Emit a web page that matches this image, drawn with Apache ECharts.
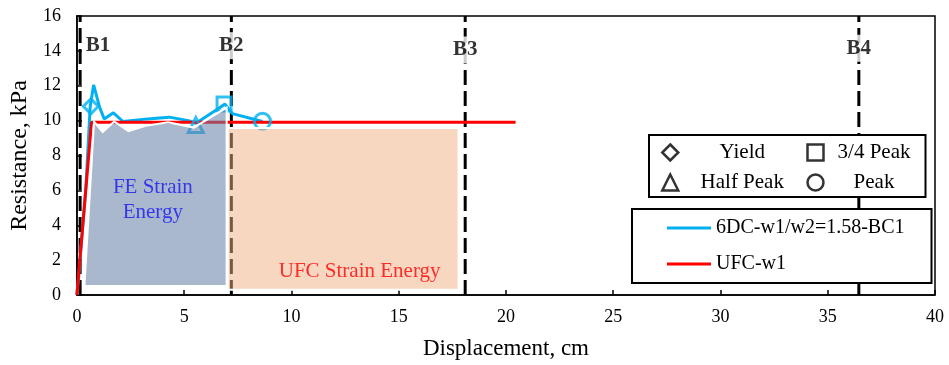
<!DOCTYPE html>
<html>
<head>
<meta charset="utf-8">
<script src="https://cdn.jsdelivr.net/npm/echarts@6/dist/echarts.min.js"></script>
<style>html,body{margin:0;padding:0;background:#fff}#c{width:949px;height:365px}</style>
</head>
<body>
<div id="c"></div>
<script>
// ---- data ----
const feCurve = [[0,0],[0.1,1.3],[0.42,6.2],[0.62,10.8],[0.78,12.05],[1.05,10.8],[1.27,10.1],[1.7,10.45],[2.15,9.95],[3.3,10.1],[4.3,10.2],[5.2,10.0],[5.55,9.85],[6.6,10.7],[6.9,10.95],[7.25,10.4],[8.65,9.95]];
const ufcCurve = [[0,0],[0.68,9.9],[20.45,9.9]];
const yieldPt = [[0.65,10.82]];
const halfPeakPt = [[5.54,9.75]];
const threeQuarterPt = [[6.86,10.95]];
const peakPt = [[8.65,9.96]];
const feEnergyPoly = [[0.35,0.52],[0.8,9.95],[1.2,9.35],[1.74,9.95],[2.4,9.4],[3.2,9.7],[4.25,9.9],[5.45,9.6],[6.98,10.75],[6.98,0.52]];
const ufcRectX = [7.03, 17.79];
const ufcRectY = [0.3, 9.58];
const bLines = [0.15, 7.2, 18.1, 36.45];
const bNames = ['B1','B2','B3','B4'];
const bLabelY = [14.3, 14.3, 14.05, 14.15];
const notes = [[3.54,5.45],[13.18,1.32]];
const noteText = ['FE Strain\nEnergy','UFC Strain Energy'];
const noteColors = ['#1515F0','#FF0000'];
const xTicks = {min:0, max:40, interval:5};
const yTicks = {min:0, max:16, interval:2};

const FONT = '"Liberation Serif", "Times New Roman", serif';
const CYAN = '#00B0F0';

const chart = echarts.init(document.getElementById('c'), null, {renderer:'canvas'});

function polySeries(name, pts, fill, z){
  return {
    name, type:'custom', z, silent:true, clip:true,
    data:[[0]],
    renderItem:(params, api)=>{
      return {type:'polygon', shape:{points:pts.map(p=>api.coord(p))},
        style:{fill, stroke:'#fff', lineWidth:2}};
    }
  };
}
const rectPts = [[ufcRectX[0],ufcRectY[0]],[ufcRectX[1],ufcRectY[0]],[ufcRectX[1],ufcRectY[1]],[ufcRectX[0],ufcRectY[1]]];

const bLineSeries = bLines.map((x,i)=>({
  name:'b'+i, type:'line', z:1, silent:true, symbol:'none',
  data:[[x,yTicks.min],[x,yTicks.max]],
  lineStyle:{color:'#000', width:3, type:[15,6]}
}));

function marker(name, data, symbol, size){
  return {name, type:'scatter', z:3, data, symbol, symbolSize:size,
    itemStyle:{color:'rgba(0,0,0,0)', borderColor:CYAN, borderWidth:3}};
}

const option = {
  animation:false,
  backgroundColor:'#fff',
  grid:{left:76, right:14, top:16, bottom:70, show:true, borderColor:'#000', borderWidth:1.5, backgroundColor:'transparent'},
  xAxis:{type:'value', min:xTicks.min, max:xTicks.max, interval:xTicks.interval,
    name:'Displacement, cm', nameLocation:'middle', nameGap:42,
    nameTextStyle:{fontFamily:FONT, fontSize:23, color:'#000'},
    axisLine:{lineStyle:{color:'#000', width:1.5}},
    axisTick:{inside:true, length:5, lineStyle:{color:'#000', width:1.5}},
    axisLabel:{fontFamily:FONT, fontSize:18, color:'#000', margin:13},
    splitLine:{show:false}},
  yAxis:{type:'value', min:yTicks.min, max:yTicks.max, interval:yTicks.interval,
    name:'Resistance, kPa', nameLocation:'middle', nameGap:41,
    nameTextStyle:{fontFamily:FONT, fontSize:24, color:'#000'},
    axisLine:{lineStyle:{color:'#000', width:1.5}},
    axisTick:{inside:true, length:5, lineStyle:{color:'#000', width:1.5}},
    axisLabel:{fontFamily:FONT, fontSize:18, color:'#000', margin:16},
    splitLine:{show:false}},
  legend:[
    {left:649, top:135, width:300, orient:'horizontal', itemGap:5, itemWidth:16, itemHeight:16,
     padding:[5,6,2,12], borderColor:'#000', borderWidth:2, backgroundColor:'#fff',
     selectedMode:false,
     data:[{name:'Yield', icon:'diamond'},{name:'3/4 Peak', icon:'rect'},{name:'Half Peak', icon:'triangle'},{name:'Peak', icon:'circle'}],
     itemStyle:{color:'rgba(0,0,0,0)', borderColor:'#000', borderWidth:2.5},
     formatter:n=> (n==='Yield'||n==='Half Peak') ? '{a|'+n+'}' : '{b|'+n+'}',
     textStyle:{fontFamily:FONT, fontSize:21, color:'#000', lineHeight:25, height:25,
       rich:{a:{width:118, height:25, align:'center', fontFamily:FONT, fontSize:21, lineHeight:25},
             b:{width:91, height:25, align:'center', fontFamily:FONT, fontSize:21, lineHeight:25}}}},
    {left:632, top:209, orient:'vertical', itemGap:16, itemWidth:44, itemHeight:3, icon:'rect',
     padding:[9,27,9,35], borderColor:'#000', borderWidth:2, backgroundColor:'#fff',
     selectedMode:false,
     data:['6DC-w1/w2=1.58-BC1','UFC-w1'],
     textStyle:{fontFamily:FONT, fontSize:20, color:'#000', lineHeight:20}}
  ],
  series:[
    ...bLineSeries,
    {name:'6DC-w1/w2=1.58-BC1', type:'line', z:2, symbol:'none', data:feCurve,
     lineStyle:{color:CYAN, width:3}, itemStyle:{color:CYAN}},
    {name:'UFC-w1', type:'line', z:2, symbol:'none', data:ufcCurve,
     lineStyle:{color:'#FF0000', width:3}, itemStyle:{color:'#FF0000'}},
    marker('Yield', yieldPt, 'diamond', 15),
    marker('Half Peak', halfPeakPt, 'triangle', 15),
    marker('3/4 Peak', threeQuarterPt, 'rect', 14),
    marker('Peak', peakPt, 'circle', 16),
    polySeries('feEnergy', feEnergyPoly, 'rgba(100,125,165,0.55)', 5),
    polySeries('ufcEnergy', rectPts, 'rgba(240,175,130,0.5)', 5),
    {name:'bLabels', type:'scatter', z:8, silent:true, symbolSize:0,
     data:bLines.map((x,i)=>[x,bLabelY[i]]),
     label:{show:true, position:'inside', formatter:p=>bNames[p.dataIndex],
       fontFamily:FONT, fontSize:21, fontWeight:'bold', color:'#000',
       backgroundColor:'#fff', padding:[3,1]},
     labelLayout:p=> p.dataIndex===0 ? {dx:18} : {}},
    {name:'notes', type:'scatter', z:9, silent:true, symbolSize:0,
     data:notes.map((p,i)=>({value:p, label:{color:noteColors[i]}})),
     label:{show:true, position:'inside', formatter:p=>noteText[p.dataIndex],
       fontFamily:FONT, fontSize:21, lineHeight:25, align:'center'}}
  ]
};
chart.setOption(option);
</script>
</body>
</html>
